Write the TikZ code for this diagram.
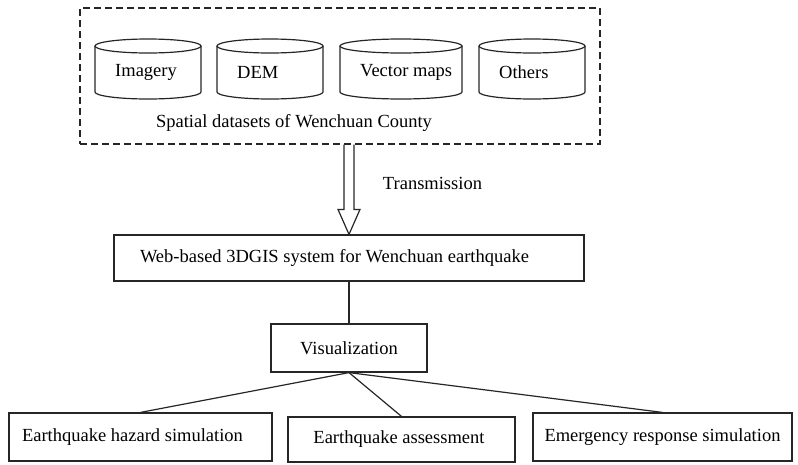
\documentclass[tikz,border=0pt]{standalone}
\usepackage{fontspec}
\setmainfont{Liberation Serif}
\usetikzlibrary{calc}
\begin{document}
\begin{tikzpicture}[x=1pt,y=-1pt,
  every node/.style={font=\fontsize{18.5}{22}\selectfont},
  ln/.style={line width=1.2pt,draw=black!85},
  databox/.style={ln,dash pattern=on 7pt off 4pt,inner sep=0pt},
  plainbox/.style={ln,rectangle,inner sep=0pt},
  lbl/.style={inner sep=0pt}
]
\useasboundingbox (0,0) rectangle (798,464);
% dashed container
\node[databox,minimum width=520pt,minimum height=136pt] (data) at (340,76) {};
% cylinders
\foreach \nm/\l/\r/\t in {imagery/95/201/Imagery, dem/217/323/DEM, vector/340/462/Vector maps, others/479/585/Others}{
  \pgfmathsetmacro{\rx}{(\r-\l)/2}
  \pgfmathsetmacro{\cx}{(\r+\l)/2}
  \draw[ln] (\l,46) -- (\l,92) arc[start angle=180,end angle=0,x radius=\rx,y radius=7] -- (\r,46);
  \draw[ln] (\cx,46) ellipse[x radius=\rx,y radius=7];
  \node[lbl,anchor=west] (\nm) at (\l+20,72) {\t};
}
\node[lbl] (spatial) at (294,123) {Spatial datasets of Wenchuan County};
% web box
\node[plainbox,minimum width=470pt,minimum height=46pt] (web) at (349,258) {\hbox{Web-based 3DGIS system for Wenchuan earthquake}\kern29pt};
% transmission arrow
\coordinate (tip) at (web.north);
\coordinate (top) at (web.north |- data.south);
\draw[ln,line join=miter] ($(top)+(-5,0)$) -- ($(tip)+(-5,-25)$) -- ($(tip)+(-11,-25)$) -- (tip)
   -- ($(tip)+(11,-25)$) -- ($(tip)+(5,-25)$) -- ($(top)+(5,0)$);
\node[lbl] (trans) at (432.5,183) {Transmission};
% visualization
\node[plainbox,minimum width=156pt,minimum height=48pt] (vis) at (349,348) {Visualization};
\draw[ln] (web.south) -- (vis.north);
% bottom boxes
\node[plainbox,minimum width=263pt,minimum height=48pt] (hazard) at (140.5,437) {\hbox{Earthquake hazard simulation}\kern16pt};
\node[plainbox,minimum width=227pt,minimum height=45pt] (assess) at (401.5,439.5) {\hbox{Earthquake assessment}\kern5pt};
\node[plainbox,minimum width=259pt,minimum height=48pt] (emerg) at (662.5,437) {Emergency response simulation};
\draw[ln] (vis.south) -- (hazard.north);
\draw[ln] (vis.south) -- (assess.north);
\draw[ln] (vis.south) -- (emerg.north);
\end{tikzpicture}
\end{document}
